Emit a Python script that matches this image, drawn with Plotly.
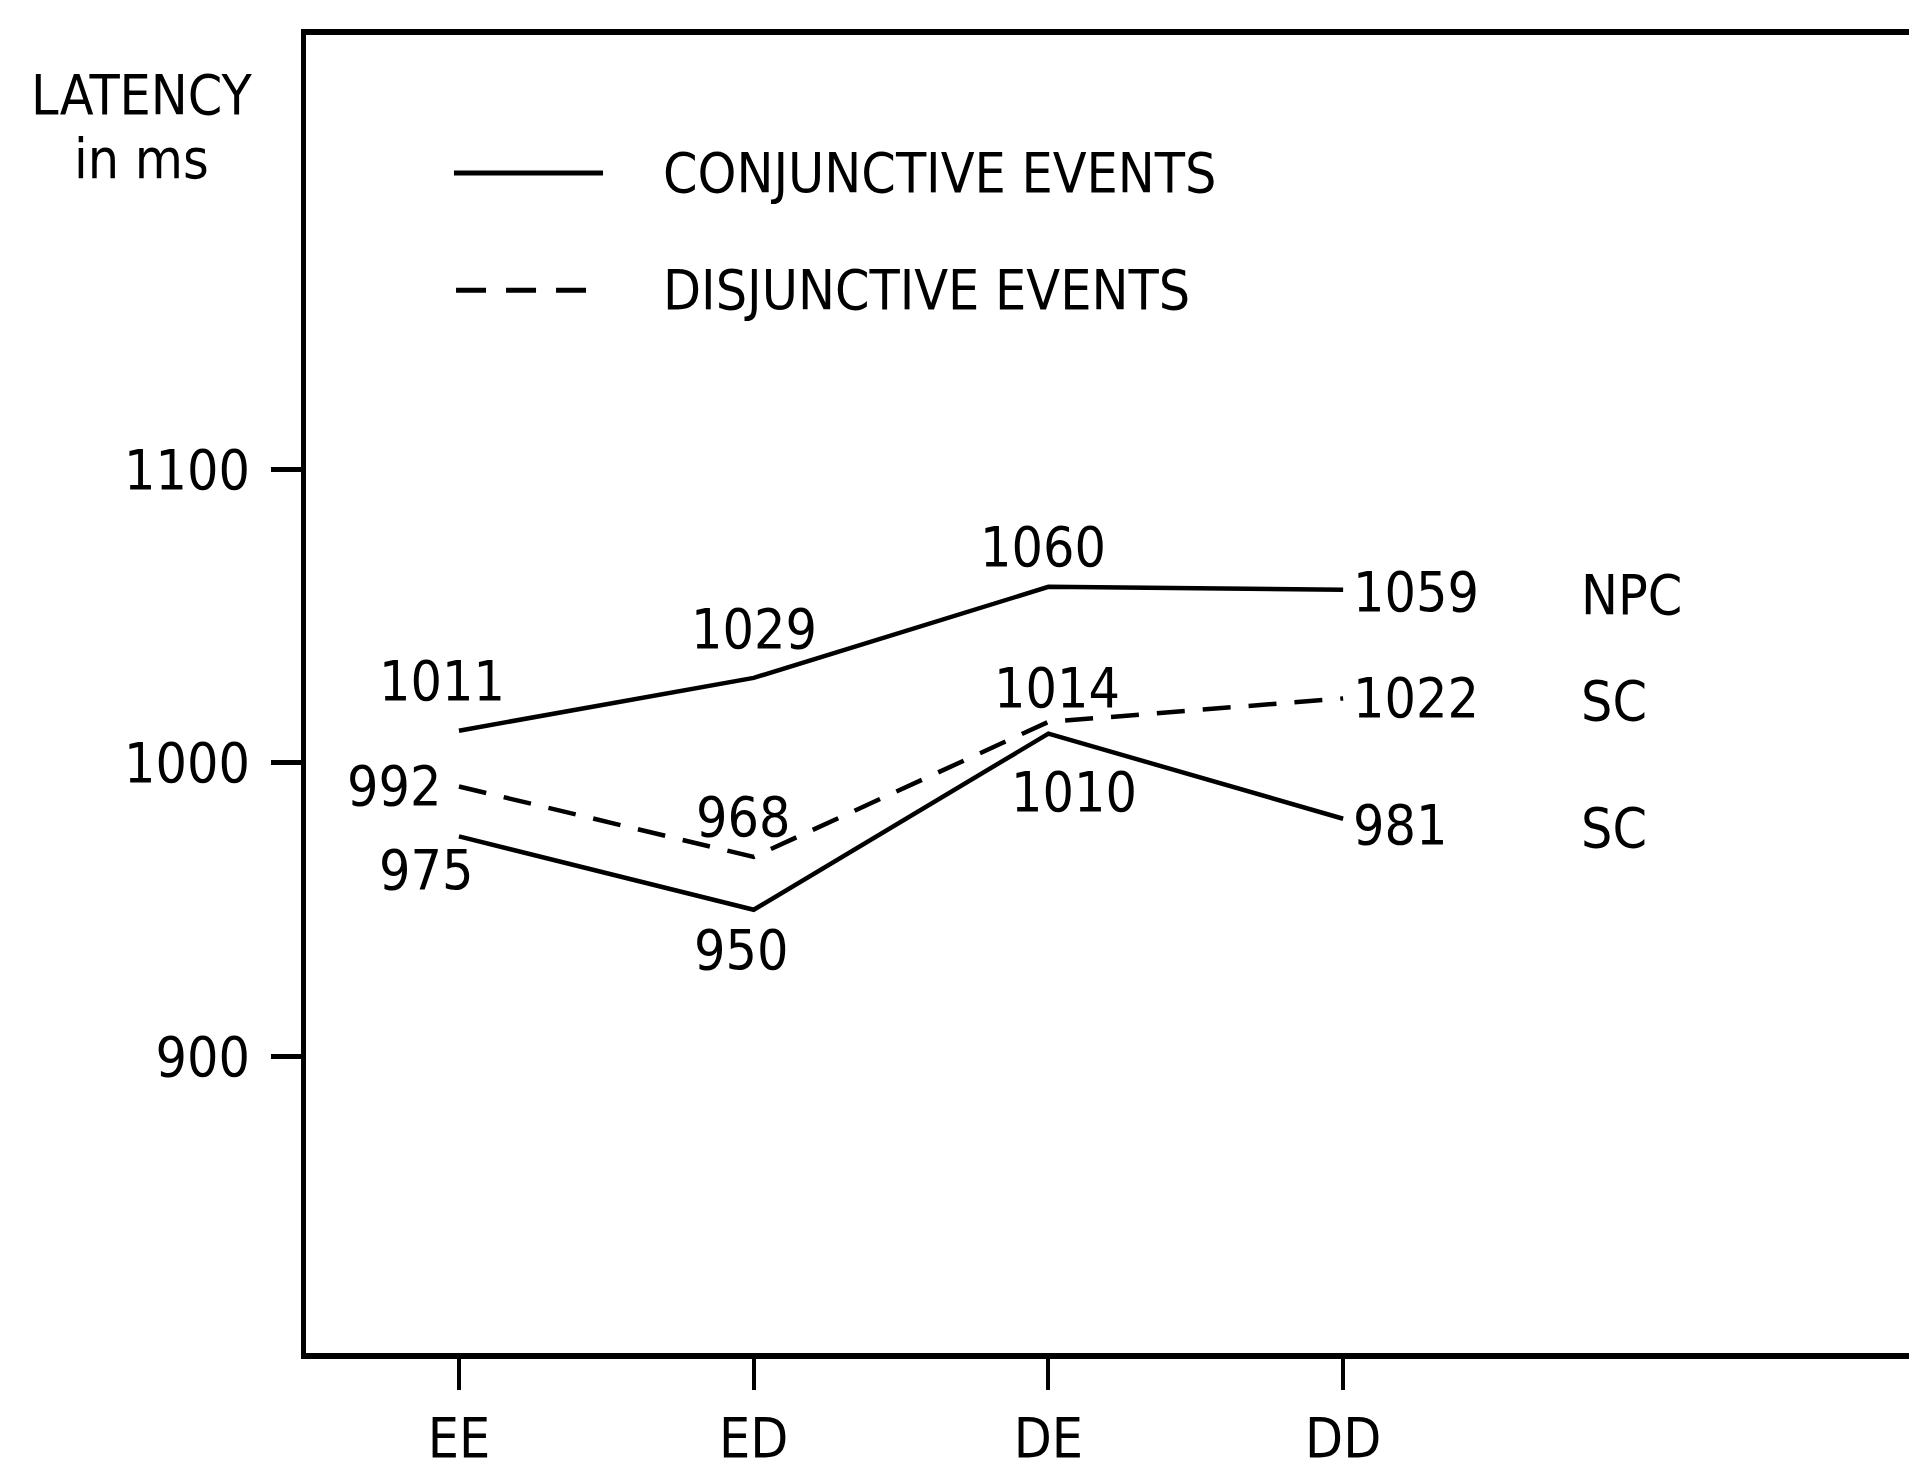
import plotly.graph_objects as go

# ---- data ----
categories = ["EE", "ED", "DE", "DD"]
npc_conjunctive = [1011, 1029, 1060, 1059]
sc_disjunctive = [992, 968, 1014, 1022]
sc_conjunctive = [975, 950, 1010, 981]
group_labels = ["NPC", "SC", "SC"]
legend_labels = ["CONJUNCTIVE EVENTS", "DISJUNCTIVE EVENTS"]
y_ticks = [900, 1000, 1100]
y_title = ["LATENCY", "in ms"]

# ---- style ----
FONT = "DejaVu Sans Condensed, DejaVu Sans, sans-serif"
FS = 55
W, H = 1909, 1470
ML, MR, MT, MB = 306, 0, 35, 108
LW = 4.5
DASH = "28px,18px"

x = list(range(len(categories)))

series = [
    dict(y=npc_conjunctive, dash="solid",
         offs=[(-17, 50, "center"), (0, 49, "center"), (-5, 40, "center"), None],
         group=group_labels[0]),
    dict(y=sc_disjunctive, dash=DASH,
         offs=[(-16, 0, "right"), (-11, 40, "center"), (9, 34, "center"), None],
         group=group_labels[1]),
    dict(y=sc_conjunctive, dash="solid",
         offs=[(-33, -34, "center"), (-13, -40, "center"), (26, -58, "center"), None],
         group=group_labels[2]),
]
end_yshift = [-2, 0, -6]

fig = go.Figure()
annotations = []
tf = dict(family=FONT, size=FS, color="black")
for k, s in enumerate(series):
    fig.add_trace(go.Scatter(
        x=x, y=s["y"], mode="lines",
        line=dict(color="black", width=LW, dash=s["dash"]),
        showlegend=False, hoverinfo="skip"))
    for i, v in enumerate(s["y"]):
        if s["offs"][i] is None:
            annotations.append(dict(x=x[i], y=v, text=str(v), showarrow=False,
                                    xanchor="left", yanchor="middle",
                                    xshift=8, yshift=end_yshift[k], font=tf))
        else:
            dx, dy, anc = s["offs"][i]
            annotations.append(dict(x=x[i], y=v, text=str(v), showarrow=False,
                                    xanchor=anc, yanchor="middle",
                                    xshift=dx, yshift=dy, font=tf))
    annotations.append(dict(x=x[-1] + 0.8, y=s["y"][-1], text=s["group"], showarrow=False,
                            xanchor="left", yanchor="middle", yshift=end_yshift[k] - 3,
                            font=tf))

# plot-area geometry in page pixels (for paper-referenced texts)
top_px, bot_px = MT, H - MB
def py(p):
    return (bot_px - p) / (bot_px - top_px)

# y-axis title (two lines)
annotations.append(dict(xref="paper", yref="paper", x=-0.1029, y=py(95), text=y_title[0],
                        showarrow=False, xanchor="center", yanchor="middle", font=tf))
annotations.append(dict(xref="paper", yref="paper", x=-0.1029, y=py(160), text=y_title[1],
                        showarrow=False, xanchor="center", yanchor="middle", font=tf))

# legend (drawn manually)
shapes = []
leg_y = [py(174), py(292)]
leg_x = [(0.0923, 0.1853), (0.0936, 0.1865)]
leg_dash = ["solid", "30px,20px"]
for j, lab in enumerate(legend_labels):
    shapes.append(dict(type="line", xref="paper", yref="paper",
                       x0=leg_x[j][0], x1=leg_x[j][1], y0=leg_y[j], y1=leg_y[j],
                       line=dict(color="black", width=5, dash=leg_dash[j])))
    annotations.append(dict(xref="paper", yref="paper", x=0.2215, y=leg_y[j], text=lab,
                            showarrow=False, xanchor="left", yanchor="middle", font=tf))

fig.update_layout(
    width=W, height=H,
    margin=dict(l=ML, r=MR, t=MT, b=MB, pad=0),
    paper_bgcolor="white", plot_bgcolor="white",
    font=tf,
    annotations=annotations, shapes=shapes,
    xaxis=dict(range=[-0.519, 4.920], tickvals=x, ticktext=categories,
               showgrid=False, zeroline=False, showline=True, linecolor="black",
               linewidth=6, mirror=True, ticks="outside", ticklen=31, tickwidth=3.5,
               tickcolor="black", ticklabelstandoff=1, tickfont=tf),
    yaxis=dict(range=[799.0, 1248.0], tickvals=y_ticks,
               showgrid=False, zeroline=False, showline=True, linecolor="black",
               linewidth=5, mirror=False, ticks="outside", ticklen=30, tickwidth=4.5,
               tickcolor="black", ticklabelstandoff=10, tickfont=tf),
)

fig.write_html("out.html", config={"displayModeBar": False},
               post_script="document.body.style.margin='0';")
